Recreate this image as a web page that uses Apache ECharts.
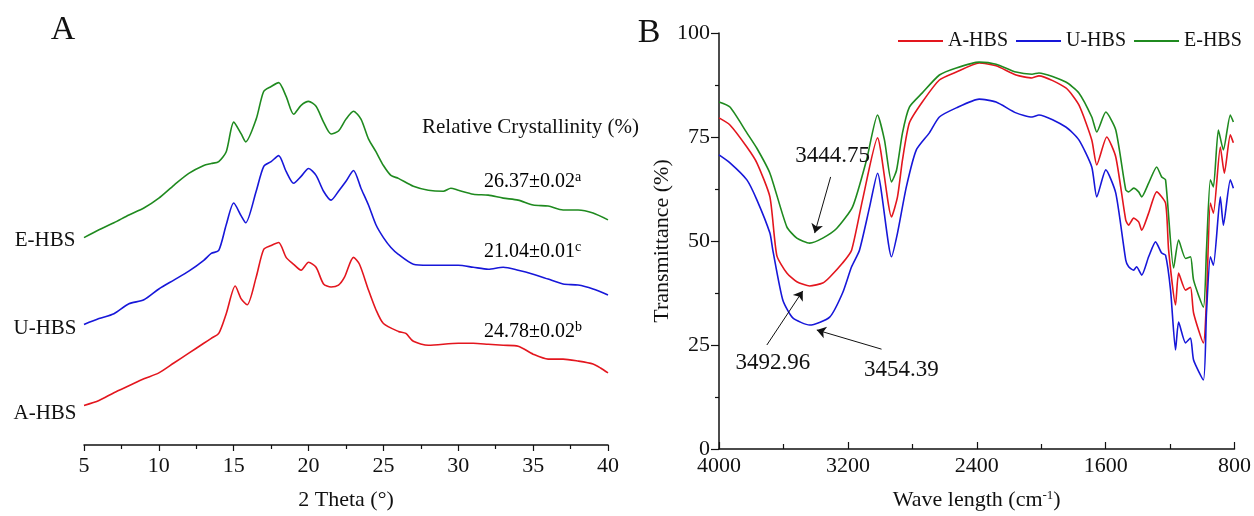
<!DOCTYPE html>
<html>
<head>
<meta charset="utf-8">
<script src="https://cdn.jsdelivr.net/npm/echarts@6/dist/echarts.min.js"></script>
<style>
  html, body { margin: 0; padding: 0; background: #fff; }
  #chart { width: 1254px; height: 516px; }
</style>
</head>
<body>
<div id="chart"></div>
<script>
const FONT = '"Liberation Serif", "Times New Roman", serif';

const RED = '#e3161e';
const BLUE = '#1717d9';
const GREEN = '#1f8a1f';

// Panel A: XRD, [2theta, stacked intensity (a.u.)]
const xrdA = [[5,40],[6,45],[7,53],[8,60],[9,67],[10,73],[11,83],[12,93],[13,103],[13.5,108],[14,113],
  [14.5,133],[15.1,161],[15.5,148],[15.9,142],[16.5,170],[17,198],[17.5,202],[18,205],[18.5,190],[19,183],
  [19.5,177],[20,185],[20.5,180],[21,163],[21.5,160],[22,162],[22.4,170],[23,190],[23.4,183],[24,157],
  [24.5,137],[25,123],[26,115],[26.5,113],[27,105],[28,101],[30,103],[31,103],[32,102],[33,101],[34,100],
  [35,92],[36,87],[37,87],[38,85],[39,82],[39.5,78],[40,73]];
const xrdU = [[5,122],[6,128],[7,133],[8,143],[9,147],[10,158],[11,167],[12,176],[13,187],[13.5,194],[14,197],
  [14.5,223],[15,245],[15.5,232],[15.8,225],[16.5,257],[17,282],[17.5,287],[18,293],[18.5,277],[19,265],
  [19.5,272],[20,280],[20.5,273],[21,257],[21.5,248],[22,257],[22.5,267],[23,278],[23.5,260],[24,243],
  [24.5,223],[25,210],[25.5,200],[26,193],[27,183],[28,182],[30,182],[31,180],[32,178],[33,180],[34,177],
  [35,173],[36,168],[37,163],[38,162],[39,158],[40,152]];
const xrdE = [[5,210],[6,218],[7,225],[8,233],[9,240],[10,250],[11,263],[12,275],[13,283],[13.5,285],[14,287],
  [14.5,297],[15,327],[15.5,315],[15.8,307],[16.5,330],[17,358],[17.5,363],[18,367],[18.5,353],[19,335],
  [19.5,344],[20,348],[20.5,343],[21,327],[21.5,315],[22,318],[22.5,330],[23,338],[23.5,330],[24,310],
  [24.5,297],[25,283],[25.5,273],[26,270],[27,262],[28,258],[29,257],[29.5,260],[30,258],[31,254],[32,253],
  [33,250],[34,248],[35,243],[36,242],[37,238],[38,238],[39,235],[40,228]];

const sampleNames = ['A-HBS', 'U-HBS', 'E-HBS'];
const crystallinity = ['24.78±0.02', '21.04±0.01', '26.37±0.02'];
const crystallinityLetters = ['b', 'c', 'a'];

// Panel B: FTIR, [wavenumber (cm-1), transmittance (%)]
const ftirA = [[4000,79.6],[3932,77.9],[3827,72.6],[3765,68.8],[3684,60.6],[3641,46.5],[3579,42.3],[3517,40.2],
  [3437,39.2],[3356,39.9],[3313,41.3],[3233,44.7],[3177,47.8],[3109,59.9],[3016,74.8],[2929,55.8],[2892,60.6],
  [2861,69.5],[2818,78.4],[2738,83.4],[2632,88.7],[2527,90.6],[2385,92.8],[2280,92.1],[2156,89.9],[2057,89.2],
  [2014,89.7],[1847,86.8],[1766,82.7],[1686,74.3],[1655,68.3],[1593,75],[1537,70.2],[1475,55],[1457,53.8],
  [1426,55.5],[1395,54.6],[1376,52.6],[1333,56.7],[1283,61.8],[1228,59.1],[1209,47.8],[1166,34.6],[1147,42.3],
  [1104,38.2],[1073,38.9],[1054,32.7],[993,25.5],[974,35.8],[950,59.1],[931,56.7],[888,72.6],[863,66.3],
  [826,75.5],[807,73.6]];
const ftirU = [[4000,70.7],[3932,68.8],[3827,64.7],[3765,59.9],[3684,51.9],[3666,47.8],[3604,35.8],[3542,31.5],
  [3437,29.8],[3313,31.7],[3233,37.5],[3177,43.8],[3128,47.8],[3065,58.2],[3016,66.3],[2929,46.2],[2892,51.9],
  [2837,63],[2775,71.9],[2694,76],[2632,79.8],[2527,82],[2385,84.1],[2280,83.4],[2156,80.8],[2057,79.8],
  [2014,80.3],[1847,77.4],[1766,74.3],[1686,67.8],[1655,60.6],[1599,67.1],[1537,61.5],[1475,45.4],[1457,43.8],
  [1426,43],[1408,43.8],[1376,41.8],[1333,46.2],[1290,49.8],[1252,47.1],[1228,46.6],[1197,38.2],[1166,23.8],
  [1147,30.5],[1104,25.5],[1073,26.7],[1054,21.4],[993,16.6],[974,32.7],[950,46.2],[931,44.2],[888,60.6],
  [869,53.8],[826,64.7],[807,62.7]];
const ftirE = [[4000,83.4],[3932,82.2],[3827,76],[3765,72.3],[3684,66.3],[3579,53.4],[3517,50.7],[3437,49.5],
  [3356,50.7],[3270,53],[3171,58.2],[3084,69.5],[3016,80.3],[2973,74.3],[2929,64.2],[2898,67],[2861,76],
  [2818,82.2],[2738,85.6],[2632,89.9],[2527,91.6],[2385,93],[2280,92.5],[2156,90.6],[2057,90.1],[2014,90.4],
  [1847,88.2],[1766,85.6],[1686,79.8],[1655,76.2],[1599,81],[1537,76.7],[1475,62.3],[1457,61.8],[1426,62.7],
  [1395,61.8],[1376,60.6],[1333,63.9],[1283,67.8],[1252,65.4],[1228,64.7],[1178,43.5],[1147,50.2],[1104,45.8],
  [1073,46.2],[1054,40.6],[993,34.1],[974,47.8],[950,64.7],[931,63],[900,76.7],[869,71.9],[826,80.3],[807,78.6]];

// peak annotations: label, label position [wn, T], arrow from, arrow to
const peakLabels = ['3444.75', '3492.96', '3454.39'];
const peakLabelAt = [[3295, 70.5], [3666, 20.7], [2868, 19]];
const peakArrowFrom = [[3307, 65.4], [3703, 25], [2991, 24]];
const peakArrowTo = [[3406, 51.9], [3480, 38], [3393, 28.6]];

const chart = echarts.init(document.getElementById('chart'));

const text = (x, y, str, size, align) => ({
  type: 'text', x, y,
  style: {
    text: str, fontFamily: FONT, fontSize: size, fill: '#111',
    align: align || 'center', verticalAlign: 'middle'
  }
});

const supStyle = {
  rich: {
    n: { fontFamily: FONT, fontSize: 20, lineHeight: 24, color: '#111' },
    s: { fontFamily: FONT, fontSize: 14, lineHeight: 24, verticalAlign: 'top', color: '#111' }
  }
};

const crystY = [332, 252, 182];
const labelY = [413, 328, 240];

const graphics = [
  text(63, 30, 'A', 34),
  text(649, 33, 'B', 34),
  text(422, 127, 'Relative Crystallinity (%)', 21, 'left'),
];
sampleNames.forEach((name, i) => {
  graphics.push(text(45, labelY[i], name, 21));
  graphics.push({
    type: 'text', x: 484, y: crystY[i],
    style: Object.assign({
      text: '{n|' + crystallinity[i] + '}{s|' + crystallinityLetters[i] + '}',
      align: 'left', verticalAlign: 'middle'
    }, supStyle)
  });
});

const axisLine = { show: true, lineStyle: { color: '#111', width: 1.5 } };
const plain = v => String(v);

const option = {
  animation: false,
  backgroundColor: '#fff',
  textStyle: { fontFamily: FONT },
  grid: [
    { left: 84, top: 50, width: 524, height: 400 },
    { left: 719, top: 33, width: 517, height: 416 }
  ],
  legend: {
    data: sampleNames,
    left: 893, top: 26,
    icon: 'rect',
    itemWidth: 45, itemHeight: 2, itemGap: 8,
    textStyle: { fontFamily: FONT, fontSize: 20, color: '#111' }
  },
  xAxis: [
    {
      gridIndex: 0, type: 'value', min: 5, max: 40, interval: 5,
      name: '2 Theta (°)', nameLocation: 'middle', nameGap: 44,
      nameTextStyle: { fontFamily: FONT, fontSize: 22, color: '#111' },
      axisLine,
      axisTick: { show: true, length: 6, lineStyle: { color: '#111', width: 1.2 } },
      minorTick: { show: true, splitNumber: 2, length: 4, lineStyle: { color: '#111', width: 1.2 } },
      axisLabel: { fontFamily: FONT, fontSize: 22, color: '#111', margin: 10, formatter: plain },
      splitLine: { show: false }
    },
    {
      gridIndex: 1, type: 'value', min: 800, max: 4000, interval: 800, inverse: true,
      name: 'Wave length (cm{s|-1})', nameLocation: 'middle', nameGap: 40,
      nameTextStyle: {
        fontFamily: FONT, fontSize: 22, color: '#111',
        rich: { s: { fontFamily: FONT, fontSize: 13, verticalAlign: 'top', lineHeight: 22 } }
      },
      axisLine,
      axisTick: { show: true, inside: true, length: 7, lineStyle: { color: '#111', width: 1.2 } },
      minorTick: { show: true, splitNumber: 2, length: 5, lineStyle: { color: '#111', width: 1.2 } },
      axisLabel: { fontFamily: FONT, fontSize: 22, color: '#111', margin: 6, formatter: plain },
      splitLine: { show: false }
    }
  ],
  yAxis: [
    { gridIndex: 0, type: 'value', min: 0, max: 400, show: false },
    {
      gridIndex: 1, type: 'value', min: 0, max: 100, interval: 25,
      name: 'Transmittance (%)', nameLocation: 'middle', nameGap: 40,
      nameTextStyle: { fontFamily: FONT, fontSize: 22, color: '#111' },
      axisLine,
      axisTick: { show: true, length: 8, lineStyle: { color: '#111', width: 1.2 } },
      minorTick: { show: true, splitNumber: 2, length: 4, lineStyle: { color: '#111', width: 1.2 } },
      axisLabel: { fontFamily: FONT, fontSize: 22, color: '#111', margin: 9, formatter: plain },
      splitLine: { show: false }
    }
  ],
  graphic: graphics,
  series: [
    ...[xrdA, xrdU, xrdE].map((d, i) => ({
      name: sampleNames[i] + ' XRD', type: 'line', xAxisIndex: 0, yAxisIndex: 0,
      data: d, symbol: 'none', smooth: 0.25,
      lineStyle: { color: [RED, BLUE, GREEN][i], width: 1.6 },
      itemStyle: { color: [RED, BLUE, GREEN][i] }
    })),
    ...[ftirA, ftirU, ftirE].map((d, i) => ({
      name: sampleNames[i], type: 'line', xAxisIndex: 1, yAxisIndex: 1,
      data: d, symbol: 'none', smooth: 0.2,
      lineStyle: { color: [RED, BLUE, GREEN][i], width: 1.6 },
      itemStyle: { color: [RED, BLUE, GREEN][i] },
      markLine: i === 0 ? {
        silent: true, symbol: ['none', 'arrow'], symbolSize: 9,
        lineStyle: { color: '#111', width: 1, type: 'solid' },
        itemStyle: { color: '#111' },
        label: { show: false },
        data: peakArrowFrom.map((p, k) => [{ coord: p }, { coord: peakArrowTo[k] }])
      } : undefined,
      markPoint: i === 0 ? {
        silent: true, symbol: 'circle', symbolSize: 0,
        label: { show: true, position: 'inside', fontFamily: FONT, fontSize: 23, color: '#111',
                 formatter: p => p.name },
        data: peakLabels.map((t, k) => ({ name: t, coord: peakLabelAt[k] }))
      } : undefined
    }))
  ]
};

chart.setOption(option);
window.addEventListener('resize', () => chart.resize());
</script>
</body>
</html>
